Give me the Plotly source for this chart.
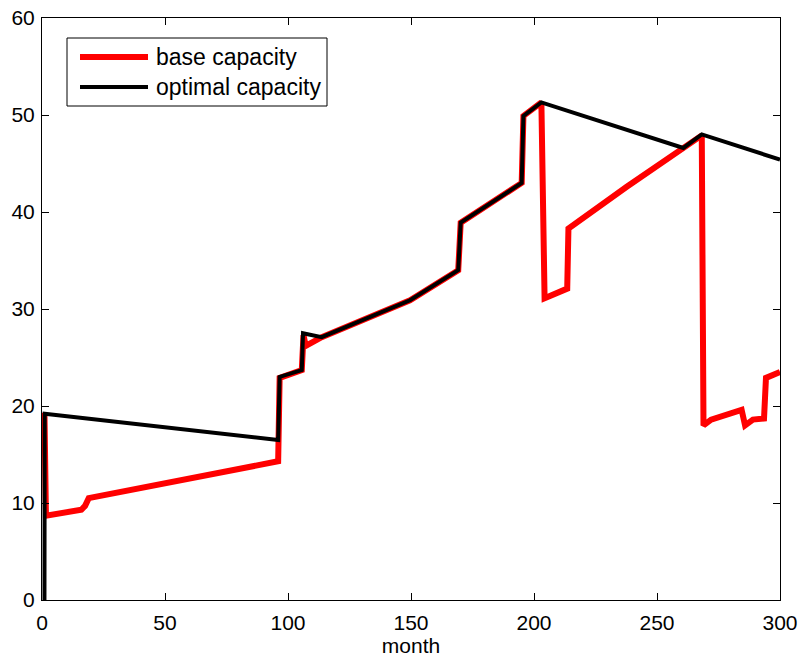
import plotly.graph_objects as go

# ---- data ----
base_month = [1, 1.6, 16, 17.5, 19, 55, 96, 96.6, 105.6, 106.3, 107.2, 113.7, 136, 149.6, 169.2,
              170.2, 195, 195.7, 203, 204.3, 213.5, 214, 237.7, 260.7, 268.2, 268.9, 272, 284.4,
              285.8, 289, 293.5, 294.3, 300]
base_capacity = [19.3, 8.7, 9.3, 9.7, 10.5, 12.3, 14.3, 22.9, 23.7, 27.3, 26.2, 27.1, 29.4, 30.9, 34.0,
                 38.9, 43.0, 49.9, 51.3, 31.1, 32.1, 38.3, 42.6, 46.6, 47.9, 18.0, 18.6, 19.6,
                 18.0, 18.6, 18.7, 22.9, 23.5]

opt_month = [1, 1.1, 96, 96.6, 105.6, 106.1, 113.7, 136, 149.6, 169.2, 170.2, 195, 195.7, 203,
             260.7, 268.2, 300]
opt_capacity = [0, 19.2, 16.5, 23.0, 23.7, 27.5, 27.1, 29.4, 30.9, 34.0, 38.9, 43.0, 49.9, 51.3,
                46.6, 48.0, 45.4]

series_names = ["base capacity", "optimal capacity"]
series_colors = ["#ff0000", "#000000"]
series_widths = [6, 4]

x_ticks = [0, 50, 100, 150, 200, 250, 300]
y_ticks = [0, 10, 20, 30, 40, 50, 60]

FONT = "Liberation Sans, Arial, Helvetica, sans-serif"

fig = go.Figure()
fig.add_trace(go.Scatter(x=base_month, y=base_capacity, mode="lines", name=series_names[0],
                         line=dict(color=series_colors[0], width=series_widths[0]),
                         showlegend=False, cliponaxis=False))
fig.add_trace(go.Scatter(x=opt_month, y=opt_capacity, mode="lines", name=series_names[1],
                         line=dict(color=series_colors[1], width=series_widths[1]),
                         showlegend=False))

axis_common = dict(showline=True, linecolor="black", linewidth=1, mirror="ticks",
                   ticks="inside", ticklen=7, tickwidth=1, tickcolor="black",
                   showgrid=False, zeroline=False, automargin=False,
                   tickfont=dict(family=FONT, size=21, color="black"))

fig.update_xaxes(range=[0, 300], tickvals=x_ticks, ticktext=[str(v) for v in x_ticks],
                 title=dict(text="month", font=dict(family=FONT, size=21, color="black"), standoff=10),
                 ticklabelstandoff=4, **axis_common)
fig.update_yaxes(range=[0, 60], tickvals=y_ticks, ticktext=[str(v) for v in y_ticks],
                 ticklabelstandoff=2, **axis_common)

# ---- custom legend (box, line samples, labels) ----
W, L, R, T, B = 800, 42, 20, 18, 57
H = 657
pw, ph = W - L - R, H - T - B


def px(xp):
    return (xp - L) / pw


def py(yp):
    return (H - B - yp) / ph


shapes = [dict(type="rect", xref="paper", yref="paper", x0=px(67), x1=px(327), y0=py(106), y1=py(38),
               line=dict(color="black", width=1), fillcolor="white", layer="above")]
annotations = []
for i, (name, col, wd) in enumerate(zip(series_names, series_colors, series_widths)):
    yy = 57 + 30 * i
    shapes.append(dict(type="line", xref="paper", yref="paper", x0=px(80), x1=px(148),
                       y0=py(yy), y1=py(yy), line=dict(color=col, width=wd), layer="above"))
    annotations.append(dict(xref="paper", yref="paper", x=px(154), y=py(yy), text=name,
                            showarrow=False, xanchor="left", yanchor="middle",
                            font=dict(family=FONT, size=23, color="black")))

fig.update_layout(width=W, height=H, margin=dict(l=L, r=R, t=T, b=B),
                  paper_bgcolor="white", plot_bgcolor="white",
                  shapes=shapes, annotations=annotations, showlegend=False)

fig.write_html("out.html")
